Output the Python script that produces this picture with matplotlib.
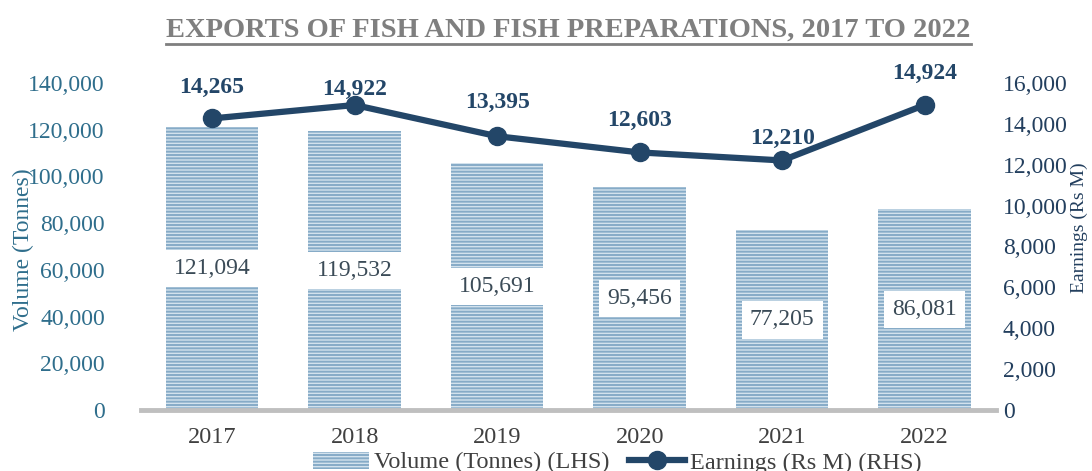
import matplotlib
matplotlib.use("Agg")
import matplotlib.pyplot as plt
from matplotlib.lines import Line2D
from matplotlib.patches import Patch
from matplotlib.ticker import FuncFormatter

years = ["2017", "2018", "2019", "2020", "2021", "2022"]
volume = [121094, 119532, 105691, 95456, 77205, 86081]
earnings = [14265, 14922, 13395, 12603, 12210, 14924]

plt.rcParams['font.family'] = ['Liberation Serif', 'DejaVu Serif']
plt.rcParams['hatch.linewidth'] = 1.4

bar_face = '#d3e2ed'
bar_hatch = '#86abc7'
line_col = '#234668'
left_col = '#2f6e8c'
right_col = '#233f5e'
year_col = '#404040'
lbl_col = '#3b4b57'

fig = plt.figure(figsize=(10.92, 4.71), dpi=100)
ax = fig.add_axes([0.129, 0.1295, 0.783, 0.6943])
ax2 = ax.twinx()

x = list(range(len(years)))
ax.bar(x, volume, width=0.65, color=bar_face, edgecolor=bar_hatch,
       linewidth=0, hatch='-----', zorder=2)
for xi, v in zip(x, volume):
    ax.text(xi, v / 2, f"{v:,}", ha='center', va='center', fontsize=17,
            color=lbl_col, zorder=5,
            bbox=dict(boxstyle='square,pad=0.35', fc='white', ec='none'))

ax.set_xlim(-0.5, len(years) - 0.5)
ax.set_ylim(0, 140000)
ax.set_yticks(range(0, 140001, 20000))
ax.yaxis.set_major_formatter(FuncFormatter(lambda v, p: f"{int(v):,}"))
ax.set_xticks(x)
ax.set_xticklabels(years)
ax.tick_params(axis='x', length=0, labelsize=17.5, colors=year_col, pad=12)
ax.tick_params(axis='y', length=0, labelsize=17, colors=left_col, pad=26)
for s in ['top', 'right', 'left']:
    ax.spines[s].set_visible(False)
ax.spines['bottom'].set_color('#bfbfbf')
ax.spines['bottom'].set_linewidth(3.5)
ax.spines['bottom'].set_zorder(3)
ax.set_ylabel("Volume (Tonnes)", fontsize=17, color=left_col)
ax.yaxis.set_label_coords(-0.125, 0.49)

ax2.plot(x, earnings, color=line_col, linewidth=4.5, marker='o',
         markersize=13, zorder=4)
offsets = [22, 11, 24, 23, 16, 23]
for xi, e, off in zip(x, earnings, offsets):
    ax2.annotate(f"{e:,}", (xi, e), xytext=(0, off), textcoords='offset points',
                 ha='center', va='center', fontsize=17, fontweight='bold',
                 color=line_col)
ax2.set_ylim(0, 16000)
ax2.set_yticks(range(0, 16001, 2000))
ax2.yaxis.set_major_formatter(FuncFormatter(lambda v, p: f"{int(v):,}"))
ax2.tick_params(axis='y', length=0, labelsize=17, colors=right_col, pad=5)
for s in ['top', 'right', 'left', 'bottom']:
    ax2.spines[s].set_visible(False)
ax2.set_ylabel("Earnings (Rs M)", fontsize=14, color=right_col)
ax2.yaxis.set_label_coords(1.088, 0.557)

# title with underline
title = fig.text(0.5206, 0.935, "EXPORTS OF FISH AND FISH PREPARATIONS, 2017 TO 2022",
                 ha='center', va='center', fontsize=20.5, fontweight='bold',
                 color='#7f7f7f')
fig.canvas.draw()
bb = title.get_window_extent().transformed(fig.transFigure.inverted())
fig.add_artist(Line2D([bb.x0, bb.x1], [bb.y0 - 0.002, bb.y0 - 0.002],
                      transform=fig.transFigure, color='#7f7f7f', linewidth=2))

handles = [Patch(facecolor=bar_face, edgecolor=bar_hatch, hatch='-----', linewidth=0),
           Line2D([0], [0], color=line_col, linewidth=4.5, marker='o', markersize=13)]
fig.legend(handles, ["Volume (Tonnes) (LHS)", "Earnings (Rs M) (RHS)"],
           loc='center', bbox_to_anchor=(0.5655, 0.018), ncol=2, frameon=False,
           fontsize=17.5, handlelength=2.3, handletextpad=0.2, columnspacing=0.8,
           labelcolor='#404040')

fig.savefig("out.png", dpi=100)
